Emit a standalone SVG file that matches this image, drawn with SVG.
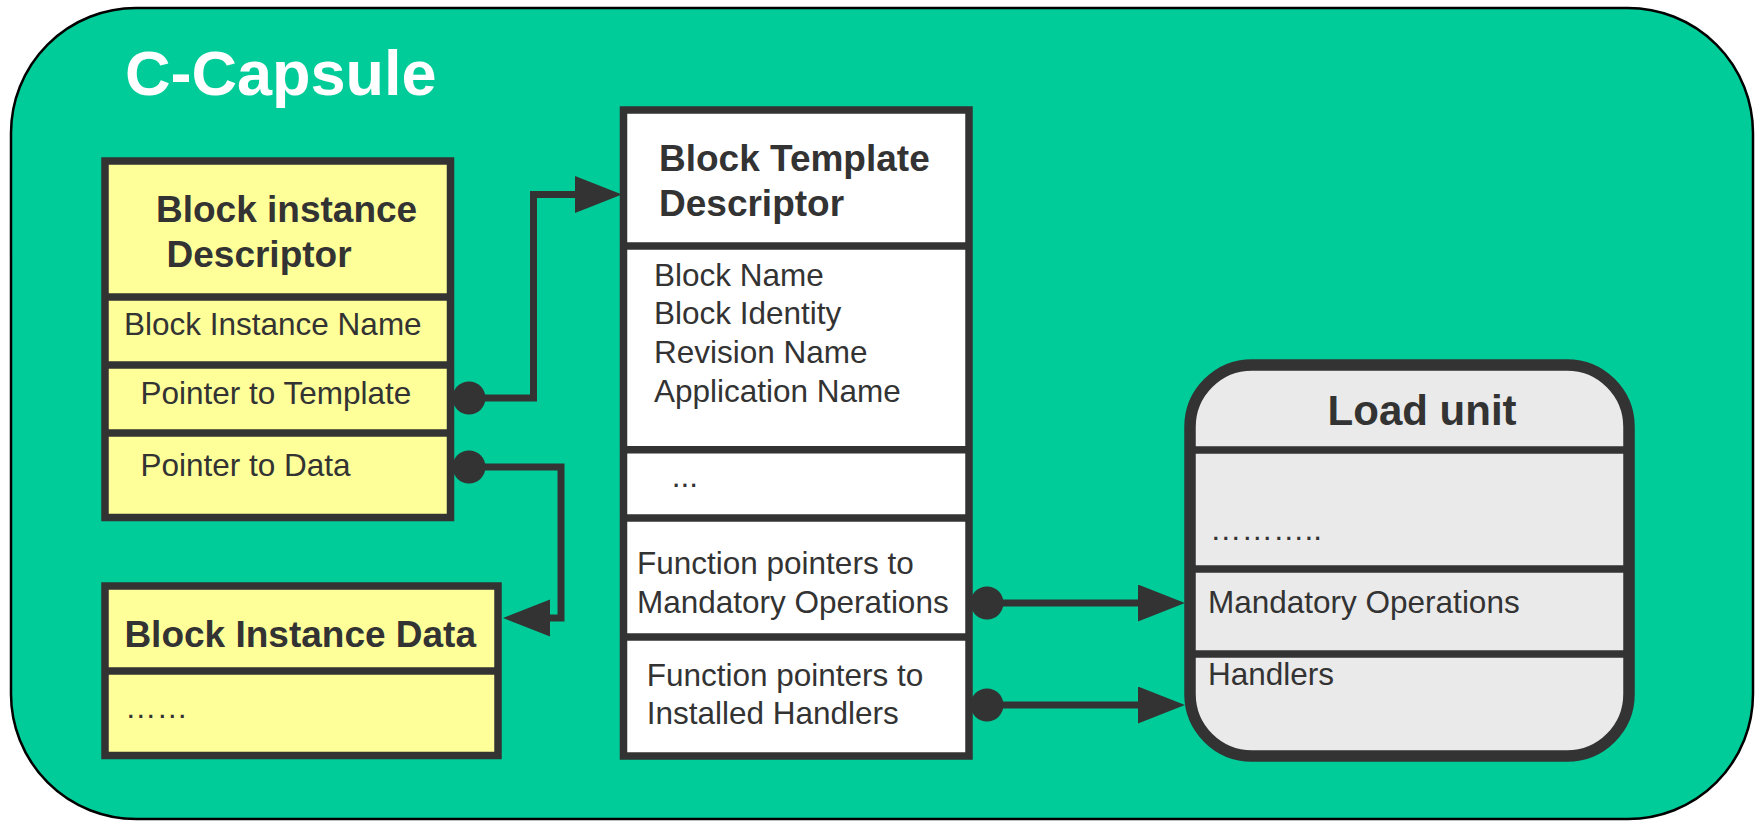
<svg xmlns="http://www.w3.org/2000/svg" width="1758" height="821" viewBox="0 0 1758 821">
<style>
text{font-family:"Liberation Sans",Arial,sans-serif;fill:#333333}
.h{font-weight:bold;font-size:37px}
.t{font-size:31.5px}
.box{stroke:#333333;stroke-width:7.5}
.div{stroke:#333333;stroke-width:7.5}
.conn{fill:none;stroke:#333333;stroke-width:7}
</style>
<defs>
<marker id="arr" markerUnits="userSpaceOnUse" markerWidth="48" markerHeight="38" refX="0" refY="18.5" orient="auto"><path d="M0,0 L47,18.5 L0,37 z" fill="#333333"/></marker>
<marker id="dot" markerUnits="userSpaceOnUse" markerWidth="34" markerHeight="34" refX="17" refY="17"><circle cx="17" cy="17" r="16.5" fill="#333333"/></marker>
</defs>
<g id="capsule">
<rect x="11" y="8" width="1742" height="811" rx="125" ry="125" fill="#00CC99" stroke="#000000" stroke-width="2.5"/>
<text x="125" y="95" style="font-weight:bold;font-size:63px;fill:#FFFFFF">C-Capsule</text>
</g>
<g id="block-instance-descriptor">
<rect class="box" x="105" y="161" width="345.5" height="356.5" fill="#FFFF99"/>
<line class="div" x1="105" y1="297" x2="450.5" y2="297"/>
<line class="div" x1="105" y1="365" x2="450.5" y2="365"/>
<line class="div" x1="105" y1="433" x2="450.5" y2="433"/>
<text class="h" x="156" y="222">Block instance</text>
<text class="h" x="166.5" y="267">Descriptor</text>
<text class="t" x="124" y="335">Block Instance Name</text>
<text class="t" x="140.5" y="404">Pointer to Template</text>
<text class="t" x="140.5" y="476">Pointer to Data</text>
</g>
<g id="block-instance-data">
<rect class="box" x="105" y="586" width="393" height="169.5" fill="#FFFF99"/>
<line class="div" x1="105" y1="671" x2="498" y2="671"/>
<text class="h" x="124.4" y="646.7">Block Instance Data</text>
<text class="t" x="125" y="718">……</text>
</g>
<g id="block-template-descriptor">
<rect class="box" x="623.5" y="110" width="345.5" height="646" fill="#FFFFFF"/>
<line class="div" x1="623.5" y1="246" x2="969" y2="246"/>
<line class="div" x1="623.5" y1="449.7" x2="969" y2="449.7"/>
<line class="div" x1="623.5" y1="518" x2="969" y2="518"/>
<line class="div" x1="623.5" y1="637" x2="969" y2="637"/>
<text class="h" x="659" y="170.7">Block Template</text>
<text class="h" x="659" y="215.7">Descriptor</text>
<text class="t" x="654" y="285.7">Block Name</text>
<text class="t" x="654" y="324.3">Block Identity</text>
<text class="t" x="654" y="363">Revision Name</text>
<text class="t" x="654" y="401.7">Application Name</text>
<text class="t" x="671.7" y="486.7">...</text>
<text class="t" x="637" y="574">Function pointers to</text>
<text class="t" x="637" y="612.7">Mandatory Operations</text>
<text class="t" x="646.7" y="685.7">Function pointers to</text>
<text class="t" x="646.7" y="724">Installed Handlers</text>
</g>
<g id="load-unit">
<rect x="1190" y="365" width="439" height="391" rx="62" ry="62" fill="#EAEAEA" stroke="#333333" stroke-width="11.5"/>
<line class="div" x1="1190" y1="450" x2="1629" y2="450"/>
<line class="div" x1="1190" y1="569" x2="1629" y2="569"/>
<line class="div" x1="1190" y1="654" x2="1629" y2="654"/>
<text x="1327.6" y="425" style="font-weight:bold;font-size:42px">Load unit</text>
<text class="t" x="1210" y="540">………..</text>
<text class="t" x="1208" y="612.7">Mandatory Operations</text>
<text class="t" x="1208" y="685">Handlers</text>
</g>
<g id="connectors">
<path class="conn" d="M469,398 H533.5 V194.5 H575" marker-start="url(#dot)" marker-end="url(#arr)"/>
<path class="conn" d="M469,467 H561 V618 H550" marker-start="url(#dot)" marker-end="url(#arr)"/>
<path class="conn" d="M987,603 H1138" marker-start="url(#dot)" marker-end="url(#arr)"/>
<path class="conn" d="M987,705 H1138" marker-start="url(#dot)" marker-end="url(#arr)"/>
</g>
</svg>
